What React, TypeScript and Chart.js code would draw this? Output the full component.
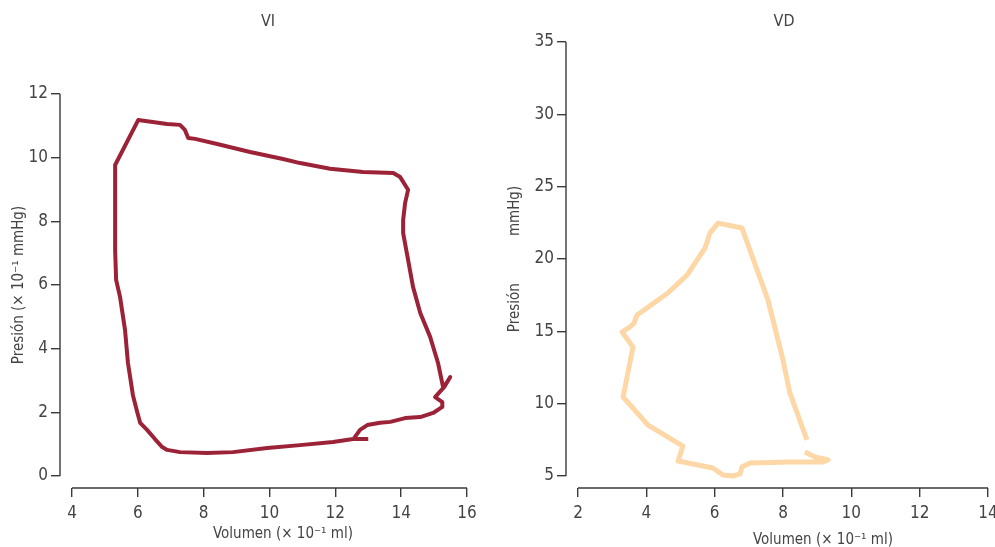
import React, { useEffect, useRef } from "react";
import { Chart, registerables } from "chart.js";

Chart.register(...registerables);

// ---- Data: left ventricle (VI) pressure-volume loop ----
const viVolume = [
  13.0, 12.54, 11.93, 10.93, 9.93, 8.89, 8.1, 7.28, 6.89, 6.74, 6.52, 6.28, 6.07, 5.98, 5.85, 5.7, 5.61, 5.46,
  5.34, 5.31, 5.31, 5.31, 6.01, 6.89, 7.28, 7.43, 7.53, 7.74, 8.41, 9.41, 10.41, 10.93, 11.84, 12.84, 13.76,
  13.97, 14.21, 14.12, 14.06, 14.06, 14.21, 14.36, 14.58, 14.88, 15.12, 15.28, 15.49, 15.31, 15.03, 15.25,
  15.25, 14.97, 14.58, 14.12, 13.67, 13.36, 12.97, 12.75, 12.57,
];
const viPressure = [
  1.16, 1.16, 1.07, 0.97, 0.88, 0.75, 0.72, 0.75, 0.82, 0.91, 1.16, 1.45, 1.67, 2.01, 2.54, 3.55, 4.59, 5.62,
  6.16, 7.1, 8.67, 9.77, 11.18, 11.06, 11.03, 10.87, 10.62, 10.59, 10.43, 10.18, 9.96, 9.83, 9.65, 9.55, 9.52,
  9.39, 8.99, 8.58, 8.04, 7.63, 6.79, 5.94, 5.12, 4.37, 3.55, 2.76, 3.11, 2.8, 2.48, 2.32, 2.17, 1.98, 1.85,
  1.82, 1.7, 1.67, 1.6, 1.45, 1.19,
];

// ---- Data: right ventricle (VD) pressure-volume loop ----
const vdVolume = [
  8.64, 8.94, 9.32, 9.17, 8.2, 7.03, 6.8, 6.74, 6.54, 6.24, 5.95, 4.93, 5.07, 4.05, 3.32, 3.61, 3.29, 3.52,
  3.64, 3.73, 4.63, 5.19, 5.72, 5.86, 6.1, 6.8, 7.56, 8.0, 8.2, 8.7,
];
const vdPressure = [
  6.66, 6.31, 6.11, 5.97, 5.97, 5.9, 5.62, 5.14, 5.0, 5.07, 5.55, 6.04, 7.07, 8.52, 10.46, 13.91, 14.95, 15.3,
  15.57, 16.13, 17.65, 18.89, 20.76, 21.79, 22.48, 22.14, 17.16, 13.02, 10.74, 7.49,
];

// ---- Tick labels ----
const viXTicks = [4, 6, 8, 10, 12, 14, 16];
const viYTicks = [0, 2, 4, 6, 8, 10, 12];
const vdXTicks = [2, 4, 6, 8, 10, 12, 14];
const vdYTicks = [5, 10, 15, 20, 25, 30, 35];

const FONT = '"Liberation Sans Narrow", "DejaVu Sans Condensed", "Roboto", sans-serif';
const TEXT = "#444444";
const AXIS = "#3a3a3a";

type PanelCfg = {
  title: string;
  titleX: number;
  xTitle: string;
  xTitleX: number;
  xTitleY: number;
  yTitle: string;
  yTitleX: number;
  xs: number[];
  ys: number[];
  xTicks: number[];
  yTicks: number[];
  xMin: number;
  yMin: number;
  color: string;
  lineWidth: number;
  axisLeft: number;
  padTop: number;
  padRight: number;
};

function makeChart(canvas: HTMLCanvasElement, c: PanelCfg) {
  const axesPlugin = {
    id: "detachedAxes",
    afterDraw(chart: any) {
      const ctx = chart.ctx;
      const xs = chart.scales.x;
      const ys = chart.scales.y;
      const area = chart.chartArea;
      ctx.save();
      ctx.strokeStyle = AXIS;
      ctx.lineWidth = 1.4;
      ctx.beginPath();
      ctx.moveTo(area.left, ys.getPixelForValue(c.yTicks[0]));
      ctx.lineTo(area.left, ys.getPixelForValue(c.yTicks[c.yTicks.length - 1]));
      ctx.moveTo(xs.getPixelForValue(c.xTicks[0]), area.bottom);
      ctx.lineTo(xs.getPixelForValue(c.xTicks[c.xTicks.length - 1]), area.bottom);
      ctx.stroke();

      ctx.fillStyle = TEXT;
      ctx.textAlign = "center";
      ctx.textBaseline = "middle";
      ctx.font = `16px ${FONT}`;
      ctx.fillText(c.title, c.titleX, 22);
      ctx.font = `15px ${FONT}`;
      ctx.fillText(c.xTitle, c.xTitleX, c.xTitleY);
      ctx.save();
      ctx.translate(c.yTitleX, (ys.getPixelForValue(c.yTicks[0]) + ys.getPixelForValue(c.yTicks[c.yTicks.length - 1])) / 2);
      ctx.rotate(-Math.PI / 2);
      ctx.fillText(c.yTitle, 0, 0);
      ctx.restore();
      ctx.restore();
    },
  };

  return new Chart(canvas, {
    type: "line",
    data: {
      datasets: [
        {
          data: c.xs.map((x, i) => ({ x, y: c.ys[i] })),
          borderColor: c.color,
          borderWidth: c.lineWidth,
          pointRadius: 0,
          tension: 0,
          fill: false,
          borderCapStyle: "butt",
          borderJoinStyle: "round",
        },
      ],
    },
    options: {
      animation: false,
      responsive: false,
      maintainAspectRatio: false,
      devicePixelRatio: 1,
      layout: { padding: { left: 0, right: c.padRight, top: c.padTop, bottom: 0 } },
      plugins: { legend: { display: false }, title: { display: false }, tooltip: { enabled: false } },
      scales: {
        x: {
          type: "linear",
          min: c.xMin,
          max: c.xTicks[c.xTicks.length - 1],
          afterFit: (s: any) => {
            s.height = 59;
          },
          afterBuildTicks: (s: any) => {
            s.ticks = c.xTicks.map((v) => ({ value: v }));
          },
          border: { display: false },
          grid: { display: true, drawOnChartArea: false, drawTicks: true, tickLength: 9, color: AXIS, lineWidth: 1.4 },
          ticks: { color: TEXT, font: { family: FONT, size: 17 }, padding: 6, maxRotation: 0, autoSkip: false },
        },
        y: {
          type: "linear",
          min: c.yMin,
          max: c.yTicks[c.yTicks.length - 1],
          afterFit: (s: any) => {
            s.width = c.axisLeft;
          },
          afterBuildTicks: (s: any) => {
            s.ticks = c.yTicks.map((v) => ({ value: v }));
          },
          border: { display: false },
          grid: { display: true, drawOnChartArea: false, drawTicks: true, tickLength: 9, color: AXIS, lineWidth: 1.4 },
          ticks: { color: TEXT, font: { family: FONT, size: 17 }, padding: 3, autoSkip: false },
        },
      },
    },
    plugins: [axesPlugin],
  });
}

export default function App() {
  const leftRef = useRef<HTMLCanvasElement | null>(null);
  const rightRef = useRef<HTMLCanvasElement | null>(null);

  useEffect(() => {
    document.body.style.margin = "0";
    const left = makeChart(leftRef.current!, {
      title: "VI",
      titleX: 268,
      xTitle: "Volumen (× 10⁻¹ ml)",
      xTitleX: 283,
      xTitleY: 534,
      yTitle: "Presión (× 10⁻¹ mmHg)",
      yTitleX: 19,
      xs: viVolume,
      ys: viPressure,
      xTicks: viXTicks,
      yTicks: viYTicks,
      xMin: 3.635,
      yMin: -0.377,
      color: "#9c2337",
      lineWidth: 4,
      axisLeft: 60,
      padTop: 94,
      padRight: 30,
    });
    const right = makeChart(rightRef.current!, {
      title: "VD",
      titleX: 287,
      xTitle: "Volumen (× 10⁻¹ ml)",
      xTitleX: 326,
      xTitleY: 540,
      yTitle: "Presión           mmHg)",
      yTitleX: 18,
      xs: vdVolume,
      ys: vdPressure,
      xTicks: vdXTicks,
      yTicks: vdYTicks,
      xMin: 1.649,
      yMin: 4.17,
      color: "#fdd7a6",
      lineWidth: 5,
      axisLeft: 69,
      padTop: 42,
      padRight: 19,
    });
    return () => {
      left.destroy();
      right.destroy();
    };
  }, []);

  return (
    <div style={{ position: "fixed", left: 0, top: 0, width: 995, height: 547, overflow: "hidden", background: "#fff" }}>
      <div style={{ position: "absolute", left: 0, top: 0, width: 497, height: 547 }}>
        <canvas ref={leftRef} width={497} height={547} style={{ width: 497, height: 547, display: "block" }} />
      </div>
      <div style={{ position: "absolute", left: 497, top: 0, width: 510, height: 547 }}>
        <canvas ref={rightRef} width={510} height={547} style={{ width: 510, height: 547, display: "block" }} />
      </div>
    </div>
  );
}
